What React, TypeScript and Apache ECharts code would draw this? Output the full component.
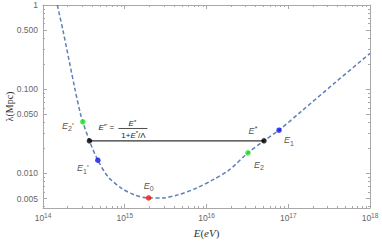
import React, { useEffect, useRef } from "react";
import * as echarts from "echarts";

// Curve lambda(E): energies in eV, lambda in Mpc
const curveE = [1.496e14, 1.754e14, 2.46e14, 2.884e14, 3.069e14, 3.698e14, 4.688e14, 6.281e14, 9.247e14, 1.346e15, 1.959e15, 2.858e15, 4.571e15, 7.328e15, 1.175e16, 1.879e16, 3.214e16, 5.047e16, 7.709e16, 1.422e17, 3.648e17, 1e18];
const curveLambda = [1.0, 0.5, 0.1, 0.05, 0.0408, 0.0243, 0.0143, 0.00903, 0.00658, 0.00547, 0.00508, 0.00508, 0.00557, 0.00658, 0.00826, 0.01086, 0.01746, 0.0243, 0.0325, 0.0537, 0.117, 0.266];

// Marked points
const greenE = [3.069e14, 3.214e16];
const greenL = [0.0408, 0.01746];
const blueE = [4.688e14, 7.709e16];
const blueL = [0.0143, 0.0325];
const redE = [1.959e15];
const redL = [0.00508];
const blackE = [3.698e14, 5.047e16];
const blackL = [0.0243, 0.0243];

// Axis ticks
const xMajor = [1e14, 1e15, 1e16, 1e17, 1e18];
const xMinor = [2e14, 3e14, 4e14, 5e14, 6e14, 7e14, 8e14, 9e14, 2e15, 3e15, 4e15, 5e15, 6e15, 7e15, 8e15, 9e15, 2e16, 3e16, 4e16, 5e16, 6e16, 7e16, 8e16, 9e16, 2e17, 3e17, 4e17, 5e17, 6e17, 7e17, 8e17, 9e17];
const yMajor = [0.005, 0.01, 0.05, 0.1, 0.5, 1];
const yMinor = [0.004, 0.006, 0.007, 0.008, 0.009, 0.02, 0.03, 0.04, 0.06, 0.07, 0.08, 0.09, 0.2, 0.3, 0.4, 0.6, 0.7, 0.8, 0.9];

const X_MIN = 1e14, X_MAX = 1.00001e18, Y_MIN = 0.00386, Y_MAX = 1.00001;
const FRAME = "#a8a8a8";
const TXT = "#666";
const SANS = "Liberation Sans, Arial, sans-serif";
const SERIF = "Liberation Serif, Times New Roman, serif";

const labelRich = {
  i: { fontFamily: SANS, fontStyle: "italic", fontSize: 9, color: "#222", lineHeight: 13 },
  sub: { fontFamily: SANS, fontSize: 7, color: "#222", lineHeight: 8, verticalAlign: "bottom" },
  sup: { fontFamily: SANS, fontSize: 8, color: "#222", lineHeight: 8, verticalAlign: "top" },
  p: { fontFamily: SANS, fontSize: 9, color: "#222", lineHeight: 13 },
  r: { fontFamily: SANS, fontSize: 9, color: "#222", lineHeight: 13 },
};

function xAxis(pos: "bottom" | "top", ticks: number[], len: number, line: boolean, labels: boolean, extra: any = {}) {
  return {
    type: "log", position: pos, min: X_MIN, max: X_MAX, logBase: 10,
    axisLine: { show: line, lineStyle: { color: FRAME, width: 1 } },
    axisTick: { show: true, inside: true, length: len, customValues: ticks, lineStyle: { color: FRAME, width: 1 } },
    axisLabel: labels
      ? {
          show: true, customValues: xMajor, margin: 4, showMaxLabel: true, showMinLabel: true, hideOverlap: false,
          formatter: (v: number) => `{b|10}{s|${Math.round(Math.log10(v))}}`,
          rich: {
            b: { fontFamily: SANS, fontSize: 8.5, color: TXT, lineHeight: 12 },
            s: { fontFamily: SANS, fontSize: 6.5, color: TXT, lineHeight: 8, verticalAlign: "top" },
          },
        }
      : { show: false },
    splitLine: { show: false },
    minorTick: { show: false },
    ...extra,
  };
}

function yAxis(pos: "left" | "right", ticks: number[], len: number, line: boolean, labels: boolean, extra: any = {}) {
  return {
    type: "log", position: pos, min: Y_MIN, max: Y_MAX, logBase: 10,
    axisLine: { show: line, lineStyle: { color: FRAME, width: 1 } },
    axisTick: { show: true, inside: true, length: len, customValues: ticks, lineStyle: { color: FRAME, width: 1 } },
    axisLabel: labels
      ? {
          show: true, customValues: yMajor, margin: 5, fontFamily: SANS, fontSize: 8.5, color: TXT,
          showMaxLabel: true, showMinLabel: true, hideOverlap: false,
          formatter: (v: number) => (v >= 0.9999 ? "1" : v.toFixed(3)),
        }
      : { show: false },
    splitLine: { show: false },
    minorTick: { show: false },
    ...extra,
  };
}

const pts = (xs: number[], ys: number[]) => xs.map((x, k) => [x, ys[k]]);

export default function App() {
  const ref = useRef<HTMLDivElement>(null);
  useEffect(() => {
    document.body.style.margin = "0";
    const chart = echarts.init(ref.current!, null, { renderer: "svg" });
    const pointLabel = (fmt: string, offset: number[]) => ({
      show: true, position: "inside", offset, formatter: fmt, rich: labelRich,
    });
    chart.setOption({
      animation: false,
      grid: { left: 43, right: 12, top: 5, bottom: 35, containLabel: false, outerBoundsMode: "none" },
      xAxis: [
        xAxis("bottom", xMajor, 4, true, true, {
          name: "{i|E}{r|(}{i|eV}{r|)}", nameLocation: "middle", nameGap: 19, nameMoveOverlap: false,
          nameTextStyle: {
            rich: {
              i: { fontFamily: SERIF, fontStyle: "italic", fontSize: 11, color: "#333" },
              r: { fontFamily: SERIF, fontSize: 11, color: "#333" },
            },
          },
        }),
        xAxis("bottom", xMinor, 2, false, false),
        xAxis("top", xMajor, 4, true, false),
        xAxis("top", xMinor, 2, false, false),
      ],
      yAxis: [
        yAxis("left", yMajor, 4, true, true, {
          name: "λ(Mpc)", nameLocation: "middle", nameGap: 29, nameRotate: 90, nameMoveOverlap: false,
          nameTextStyle: { fontFamily: SERIF, fontSize: 10, color: "#333" },
        }),
        yAxis("left", yMinor, 2, false, false),
        yAxis("right", yMajor, 4, true, false),
        yAxis("right", yMinor, 2, false, false),
      ],
      series: [
        {
          type: "line", xAxisIndex: 0, yAxisIndex: 0, data: pts(curveE, curveLambda),
          smooth: 0.3, showSymbol: false, symbol: "none",
          lineStyle: { color: "#5E81B5", width: 1.5, type: [4, 2.5] }, z: 2,
        },
        {
          type: "line", xAxisIndex: 0, yAxisIndex: 0, data: pts(blackE, blackL),
          showSymbol: false, symbol: "none", lineStyle: { color: "#333", width: 1.2 }, z: 3,
        },
        {
          type: "scatter", xAxisIndex: 0, yAxisIndex: 0, symbolSize: 5.5, z: 5,
          itemStyle: { color: "#22e022" },
          data: [
            { value: [greenE[0], greenL[0]], label: pointLabel("{i|E}{sub|2}{p|'}", [-15, 4]) },
            { value: [greenE[1], greenL[1]], label: pointLabel("{i|E}{sub|2}", [11, 12]) },
          ],
        },
        {
          type: "scatter", xAxisIndex: 0, yAxisIndex: 0, symbolSize: 5.5, z: 5,
          itemStyle: { color: "#1010ee" },
          data: [
            { value: [blueE[0], blueL[0]], label: pointLabel("{i|E}{sub|1}{p|'}", [-15, 8]) },
            { value: [blueE[1], blueL[1]], label: pointLabel("{i|E}{sub|1}", [10, 10]) },
          ],
        },
        {
          type: "scatter", xAxisIndex: 0, yAxisIndex: 0, symbolSize: 5.5, z: 5,
          itemStyle: { color: "#ee1010" },
          data: [{ value: [redE[0], redL[0]], label: pointLabel("{i|E}{sub|0}", [0, -12]) }],
        },
        {
          type: "scatter", xAxisIndex: 0, yAxisIndex: 0, symbolSize: 5.5, z: 5,
          itemStyle: { color: "#000" },
          data: [
            { value: [blackE[0], blackL[0]] },
            { value: [blackE[1], blackL[1]], label: pointLabel("{i|E}{sup|*}", [-11, -10]) },
          ],
        },
      ],
    });

    // Formula annotation anchored to the left black point
    const a = chart.convertToPixel({ seriesIndex: 0 }, [blackE[0], blackL[0]]) as number[];
    const fRich = {
      i: { fontFamily: SANS, fontStyle: "italic", fontSize: 8, fill: "#222", lineHeight: 10 },
      r: { fontFamily: SANS, fontSize: 8, fill: "#222", lineHeight: 10 },
      sup: { fontFamily: SANS, fontSize: 6, fill: "#222", lineHeight: 6, verticalAlign: "top" },
    };
    chart.setOption({
      graphic: [
        {
          type: "text", x: a[0] + 9, y: a[1] - 13, z: 10,
          style: { text: "{i|E}{sup|*'}{r| =}", rich: fRich, align: "left", verticalAlign: "middle" },
        },
        {
          type: "text", x: a[0] + 43, y: a[1] - 17, z: 10,
          style: { text: "{i|E}{sup|*}", rich: fRich, align: "center", verticalAlign: "middle" },
        },
        {
          type: "line", z: 10,
          shape: { x1: a[0] + 29, y1: a[1] - 12.3, x2: a[0] + 58, y2: a[1] - 12.3 },
          style: { stroke: "#222", lineWidth: 0.8 },
        },
        {
          type: "text", x: a[0] + 44, y: a[1] - 5.5, z: 10,
          style: { text: "{r|1+}{i|E}{sup|*}{r|/Λ}", rich: fRich, align: "center", verticalAlign: "middle" },
        },
      ],
    });
    return () => chart.dispose();
  }, []);
  return <div ref={ref} style={{ width: 382, height: 243 }} />;
}
